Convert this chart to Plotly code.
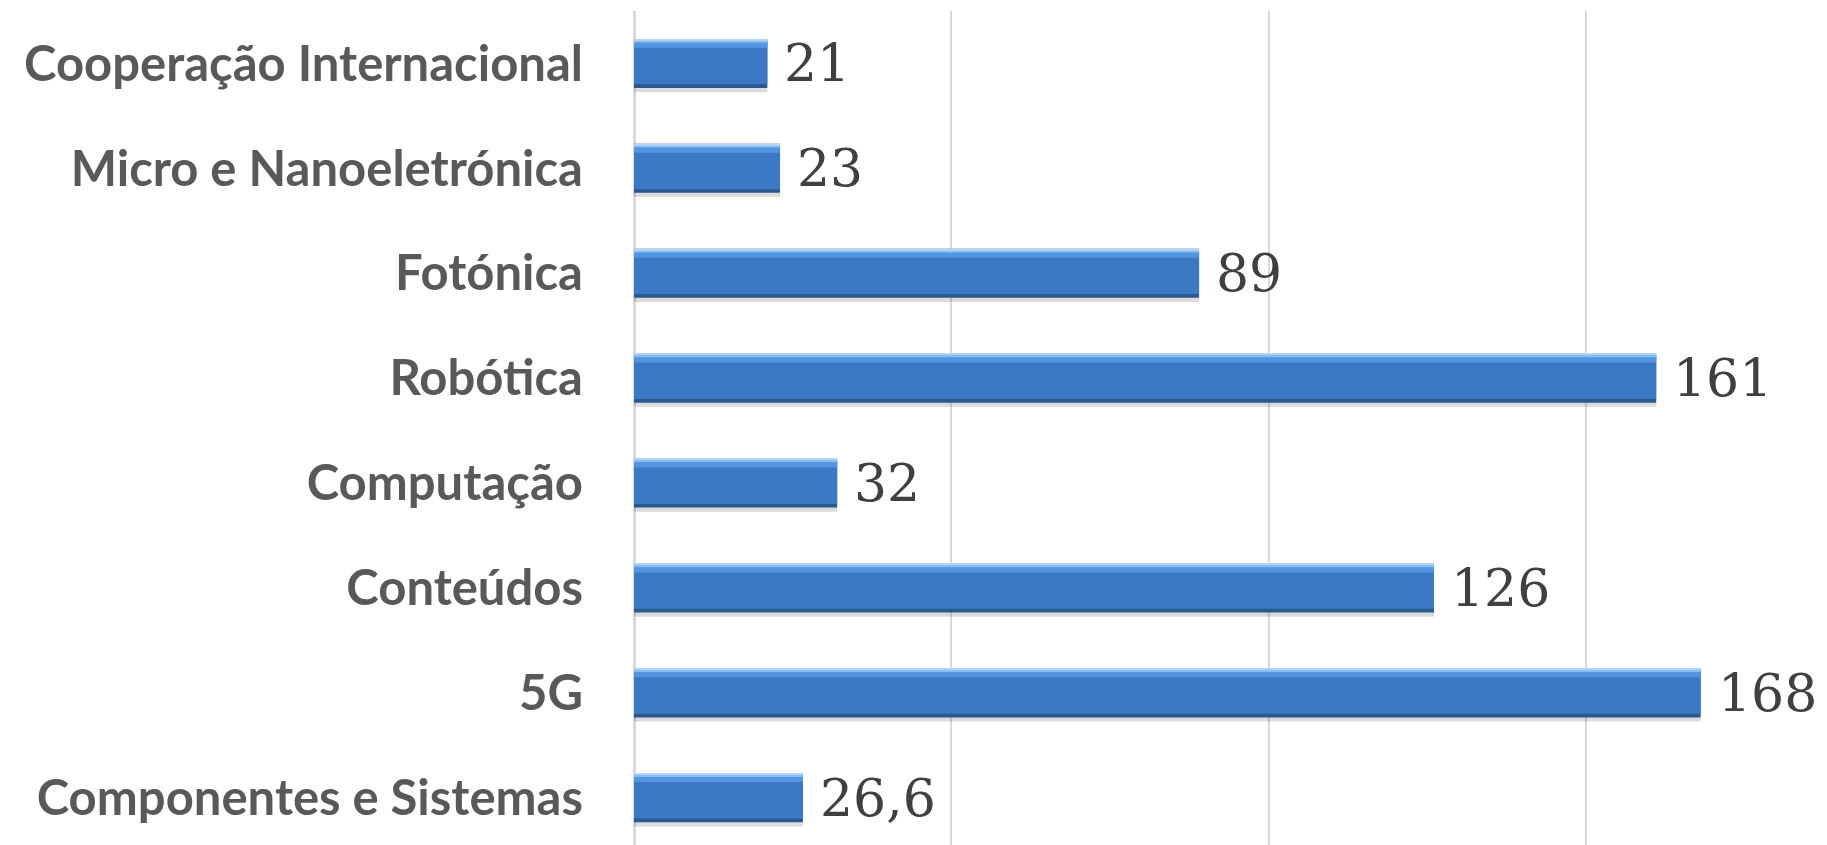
import plotly.graph_objects as go

categories = ["Componentes e Sistemas", "5G", "Conteúdos", "Computação",
              "Robótica", "Fotónica", "Micro e Nanoeletrónica", "Cooperação Internacional"]
values = [26.6, 168, 126, 32, 161, 89, 23, 21]
value_labels = ["26,6", "168", "126", "32", "161", "89", "23", "21"]
grid_ticks = [0, 50, 100, 150]

BW = 0.467
fig = go.Figure()

def layer(offset, width, color):
    fig.add_trace(go.Bar(
        y=categories, x=values, orientation="h",
        offset=offset, width=width,
        marker=dict(color=color, line=dict(width=0)),
        hoverinfo="skip", showlegend=False,
    ))

# shadow, dark base, body, highlight bands
layer(-BW / 2 - 0.04, 0.06, "rgba(0,0,0,0.14)")
layer(-BW / 2, BW, "#2b5890")
layer(-BW / 2 + 0.035, BW - 0.06, "#3b79c5")
layer(BW / 2 - 0.085, 0.06, "#5495e0")
layer(BW / 2 - 0.035, 0.025, "#82bcfa")
layer(BW / 2 - 0.012, 0.012, "#b4d3f0")

for c, v, t in zip(categories, values, value_labels):
    fig.add_annotation(x=v, y=c, text=t, showarrow=False, xanchor="left",
                       yanchor="middle", xshift=15, yshift=0,
                       font=dict(family="DejaVu Serif", size=52, color="#404040"))

fig.update_layout(
    width=1827, height=845, autosize=False,
    margin=dict(l=634, r=0, t=11, b=0),
    paper_bgcolor="white", plot_bgcolor="white",
    barmode="overlay",
    xaxis=dict(range=[0, 187.9], tickvals=grid_ticks, showticklabels=False,
               showgrid=True, gridcolor="#d9d9d9", gridwidth=2,
               zeroline=True, zerolinecolor="#d9d9d9", zerolinewidth=3,
               showline=False, ticks=""),
    yaxis=dict(range=[-0.45, 7.5], categoryorder="array", categoryarray=categories,
               showgrid=False, zeroline=False, showline=False, ticks="",
               ticklabelstandoff=50,
               tickfont=dict(family="Lato", size=49, color="#595959", weight="bold")),
)

fig.write_html("out.html", config={"displayModeBar": False},
               post_script="document.body.style.margin='0px';document.body.style.overflow='hidden';")
